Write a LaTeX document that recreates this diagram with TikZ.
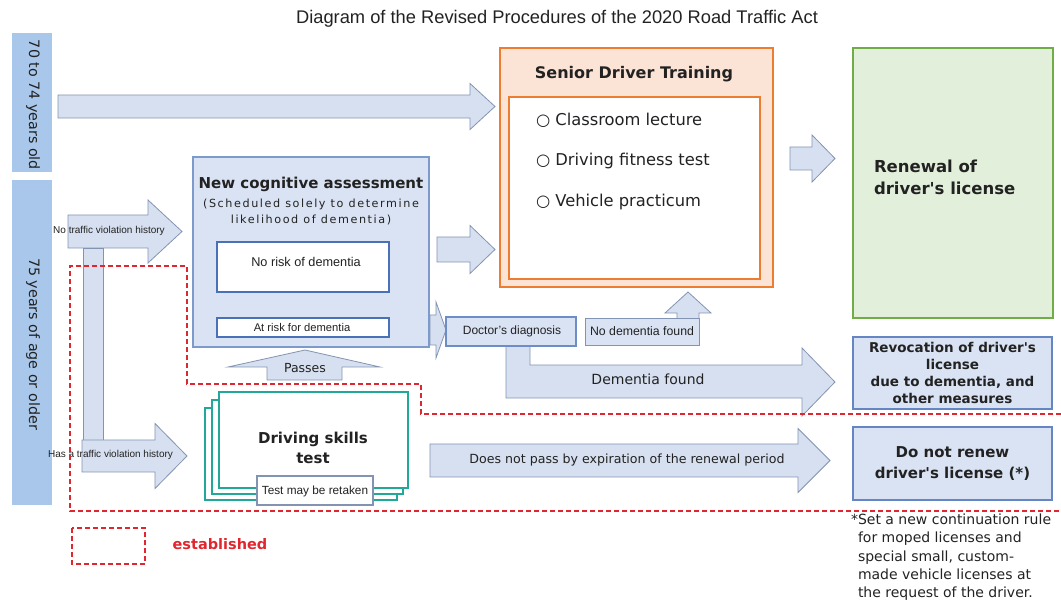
\documentclass[tikz,border=0pt]{standalone}
\usepackage{fontspec}
\setmainfont{DejaVu Sans}[Ligatures=TeXOff]
\newfontfamily\arialfont{Liberation Sans}
\newfontfamily\spacedfont[LetterSpace=14, Ligatures=TeXOff]{DejaVu Sans}
\newcommand\fs[2]{\fontsize{#1}{#2}\selectfont}

\definecolor{bandblue}{HTML}{A8C7EA}
\definecolor{lfill}{HTML}{DAE3F3}
\definecolor{lline}{HTML}{7C9BCB}
\definecolor{afill}{HTML}{D7E0F0}
\definecolor{aline}{HTML}{8294B2}
\definecolor{iline}{HTML}{4A70B8}
\definecolor{ofill}{HTML}{FBE4D5}
\definecolor{oline}{HTML}{ED7D31}
\definecolor{gfill}{HTML}{E2EFDA}
\definecolor{gline}{HTML}{70AD47}
\definecolor{skillteal}{HTML}{22A898}
\definecolor{dred}{HTML}{E0262E}
\definecolor{ink}{HTML}{222222}

% horizontal block arrow: tail x, tip x, centre y, shaft half height, head half height, head length
\newcommand\harrow[6]{%
  \path[barrow] (#1,#3-#4) -- (#2-#6,#3-#4) -- (#2-#6,#3-#5) -- (#2,#3)
    -- (#2-#6,#3+#5) -- (#2-#6,#3+#4) -- (#1,#3+#4) -- cycle;}

\begin{document}
\begin{tikzpicture}[x=1pt,y=-1pt,
  every node/.style={text=ink, inner sep=0pt, outer sep=0pt},
  band/.style={fill=bandblue, anchor=north west},
  lbox/.style={draw=lline, fill=lfill, line width=1.2pt, anchor=north west},
  wbox/.style={draw=iline, fill=white, line width=1.4pt, anchor=north west},
  skill/.style={draw=skillteal, fill=white, line width=1.5pt},
  barrow/.style={draw=aline, fill=afill, line width=0.8pt, line join=miter},
  reddash/.style={draw=dred, line width=1.8pt, dash pattern=on 5pt off 3pt},
  btitle/.style={font=\bfseries\fs{15}{18}, align=center},
  small/.style={font=\arialfont\fs{12}{13}},
  tiny/.style={font=\arialfont\fs{10}{11}}]
\useasboundingbox (0,0) rectangle (1061,601);

% title
\node[font=\arialfont\fs{18.3}{20}] (title) at (557,19)
  {Diagram of the Revised Procedures of the 2020 Road Traffic Act};

% age bands
\node[band, minimum width=40, minimum height=139] (band1) at (12,33) {};
\node[rotate=-90, font=\fs{14.3}{16}] (band1txt) at (33,105) {70 to 74 years old};
\node[band, minimum width=40, minimum height=325] (band2) at (12,180) {};
\node[rotate=-90, font=\fs{14.3}{16}] (band2txt) at (33,344) {75 years of age or older};

% block arrows
\harrow{58}{495}{106.5}{11.5}{23}{25}
\harrow{437}{495}{249.5}{12.5}{24}{25}
\harrow{430}{446}{330}{15}{28}{10}
\harrow{790}{835}{158.5}{11.5}{23.5}{23}
\harrow{430}{830}{460.5}{16.5}{32}{32}
% path of a driver with no violation history, and one with a history
\path[barrow] (83,248) rectangle (103,440);
\harrow{68}{182}{231.5}{16.5}{31.5}{34}
\harrow{82}{187}{456}{16}{32.5}{32}
% "Dementia found" bent arrow
\path[barrow] (506,346) -- (530,346) -- (530,365) -- (802,365) -- (802,348)
  -- (835,382) -- (802,416) -- (802,398) -- (506,398) -- cycle;
\node[font=\fs{14}{16}] (demfound) at (648,379) {Dementia found};
\node[font=\fs{12.6}{14}] (nopass) at (627,460) {Does not pass by expiration of the renewal period};
% "Passes" arrow
\path[barrow] (267,380) -- (267,367) -- (228,367) -- (305,350) -- (380,367)
  -- (342,367) -- (342,380) -- cycle;
\node[font=\fs{12.5}{14}] (passes) at (305,368) {Passes};
% "No dementia found" arrow up to training
\path[barrow] (677,320) -- (677,313) -- (665,313) -- (688,292) -- (711,313)
  -- (699,313) -- (699,320) -- cycle;

\node[tiny] (noviol) at (109,231) {No traffic violation history};
\node[tiny] (hasviol) at (110.5,455) {Has a traffic violation history};

% senior driver training
\node[draw=oline, fill=ofill, line width=1.4pt, anchor=north west,
  minimum width=273, minimum height=239] (senior) at (500,48) {};
\node[btitle, font=\bfseries\fs{16}{18}] (seniortitle) at (634,74) {Senior Driver Training};
\node[draw=oline, fill=white, line width=2.4pt, anchor=north west,
  minimum width=251, minimum height=182] (seniorin) at (509,97) {};
\node[font=\fs{16.3}{18}, anchor=west] (item1) at (536,120) {○ Classroom lecture};
\node[font=\fs{16.3}{18}, anchor=west] (item2) at (536,161) {○ Driving fitness test};
\node[font=\fs{16.3}{18}, anchor=west] (item3) at (536,202) {○ Vehicle practicum};

% renewal
\node[draw=gline, fill=gfill, line width=1.4pt, anchor=north west,
  minimum width=200, minimum height=270] (renew) at (853,48) {};
\node[font=\bfseries\fs{16.5}{22}, align=left, anchor=west] (renewtxt) at (874,177)
  {Renewal of\\driver's license};

% cognitive assessment
\node[lbox, minimum width=236, minimum height=190] (cog) at (193,157) {};
\node[btitle] (cogtitle) at (311,184) {New cognitive assessment};
\node[font=\spacedfont\fs{11.2}{16}, align=center] (cogsub) at (311,212)
  {(Scheduled solely to determine\\likelihood of dementia)};
\node[wbox, minimum width=172, minimum height=50] (norisk) at (217,242) {};
\node[font=\arialfont\fs{12.7}{14}] (norisktxt) at (306,262) {No risk of dementia};
\node[wbox, minimum width=172, minimum height=19] (atrisk) at (217,318) {};
\node[font=\arialfont\fs{11.2}{12}] (atrisktxt) at (302,327.5) {At risk for dementia};

% doctor's diagnosis
\node[lbox, minimum width=130, minimum height=29, draw=iline!80] (doctor) at (446,317) {};
\node[small] (doctortxt) at (512,331.5) {Doctor’s diagnosis};
\node[lbox, minimum width=114, minimum height=27, line width=0.9pt, draw=aline] (nodem) at (585,318) {};
\node[small, font=\arialfont\fs{12.3}{13}] (nodemtxt) at (642,331.5) {No dementia found};

% outcomes
\node[lbox, minimum width=199, minimum height=72, draw=iline!85] (revoke) at (853,337) {};
\node[font=\bfseries\fs{13.5}{17.2}, align=center] (revoketxt) at (revoke.center)
  {Revocation of driver's\\license\\due to dementia, and\\other measures};
\node[lbox, minimum width=199, minimum height=73, draw=iline!85] (norenew) at (853,427) {};
\node[font=\bfseries\fs{15}{20.5}, align=center] (norenewtxt) at (norenew.center)
  {Do not renew\\driver's license (*)};

% driving skills test, stacked sheets
\draw[skill] (205,408) rectangle (397,500);
\draw[skill] (212,400) rectangle (403,494);
\node[skill, anchor=north west, minimum width=189, minimum height=96] (skills) at (219,392) {};
\node[btitle, font=\bfseries\fs{15}{20}] (skillstxt) at (313,448) {Driving skills\\test};
\node[draw=aline, fill=white, line width=1.2pt, anchor=north west,
  minimum width=116, minimum height=29] (retake) at (257,476) {};
\node[font=\arialfont\fs{11.8}{12}] (retaketxt) at (315,491) {Test may be retaken};

% footnote
\node[font=\fs{14}{18.3}, align=left, anchor=north west] (note) at (858,514)
  {\llap{*}Set a new continuation rule\\for moped licenses and\\special small, custom-\\made vehicle licenses at\\the request of the driver.};

% newly established part
\draw[reddash] (1061,414) -- (421,414) -- (421,384) -- (187,384) -- (187,266)
  -- (70,266) -- (70,511) -- (1061,511);
\draw[reddash] (72,528) rectangle (145,564);
\node[font=\bfseries\fs{14.5}{16}, text=dred] (legend) at (220,544) {established};
\end{tikzpicture}
\end{document}
